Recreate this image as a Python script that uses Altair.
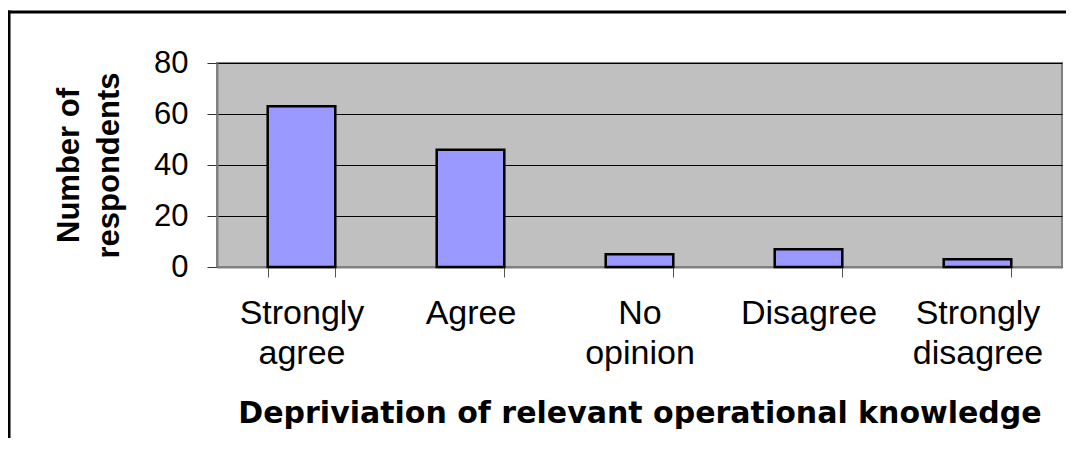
import altair as alt
import pandas as pd

categories = ["Strongly agree", "Agree", "No opinion", "Disagree", "Strongly disagree"]
respondents = [63, 46, 5, 7, 3]
y_ticks = [0, 20, 40, 60, 80]
x_title = "Depriviation of relevant operational knowledge"
y_title = ["Number of", "respondents"]

df = pd.DataFrame({"category": categories, "respondents": respondents})

bars = alt.Chart(df).mark_bar(
    fill="#9999ff", stroke="black", strokeWidth=2.5
).encode(
    x=alt.X(
        "category:N",
        sort=categories,
        scale=alt.Scale(paddingInner=0.6, paddingOuter=0.3),
        axis=alt.Axis(
            title=x_title,
            titleFont="DejaVu Sans",
            titleFontSize=30,
            titleFontWeight="bold",
            titleColor="black",
            titleBaseline="alphabetic",
            titleX=422.5,
            titleY=155,
            labelExpr="split(datum.label, ' ')",
            labelFont="Liberation Sans",
            labelFontSize=34,
            labelColor="black",
            labelLineHeight=40,
            labelPadding=19,
            labelAngle=0,
            tickBand="extent",
            tickSize=10,
            tickColor="#555555",
            tickWidth=1,
            domainColor="#808080",
            domainWidth=2,
            grid=False,
        ),
    ),
    y=alt.Y(
        "respondents:Q",
        scale=alt.Scale(domain=[0, 80], nice=False),
        axis=alt.Axis(
            values=y_ticks,
            title=y_title,
            titleFont="Liberation Sans",
            titleFontSize=31,
            titleFontWeight="bold",
            titleColor="black",
            titleLineHeight=40,
            titleAngle=270,
            titleAlign="center",
            titleBaseline="alphabetic",
            titleX=-139,
            titleY=102,
            labelFont="Liberation Sans",
            labelFontSize=31,
            labelColor="black",
            labelPadding=19,
            tickSize=10,
            tickColor="#333333",
            tickWidth=1,
            domainColor="#808080",
            domainWidth=2,
            grid=True,
            gridColor="black",
            gridWidth=1,
            gridOpacity=1,
        ),
    ),
)

frame_src = pd.DataFrame({"f": [0]})
frame_top = alt.Chart(frame_src).mark_rule(color="black", strokeWidth=3).encode(
    x=alt.value(-209.5),
    x2=alt.value(1200),
    y=alt.value(-51),
)
frame_left = alt.Chart(frame_src).mark_rule(color="black", strokeWidth=3).encode(
    x=alt.value(-208),
    y=alt.value(-52.5),
    y2=alt.value(600),
)

chart = alt.layer(bars, frame_top, frame_left).properties(
    width=845,
    height=204,
    autosize="none",
    padding={"left": 209, "top": 55, "right": 4, "bottom": 171},
    background="white",
).configure_view(
    fill="#c0c0c0", stroke="#808080", strokeWidth=2
)

chart.save("out.html", embed_options={"renderer": "svg", "actions": False})
